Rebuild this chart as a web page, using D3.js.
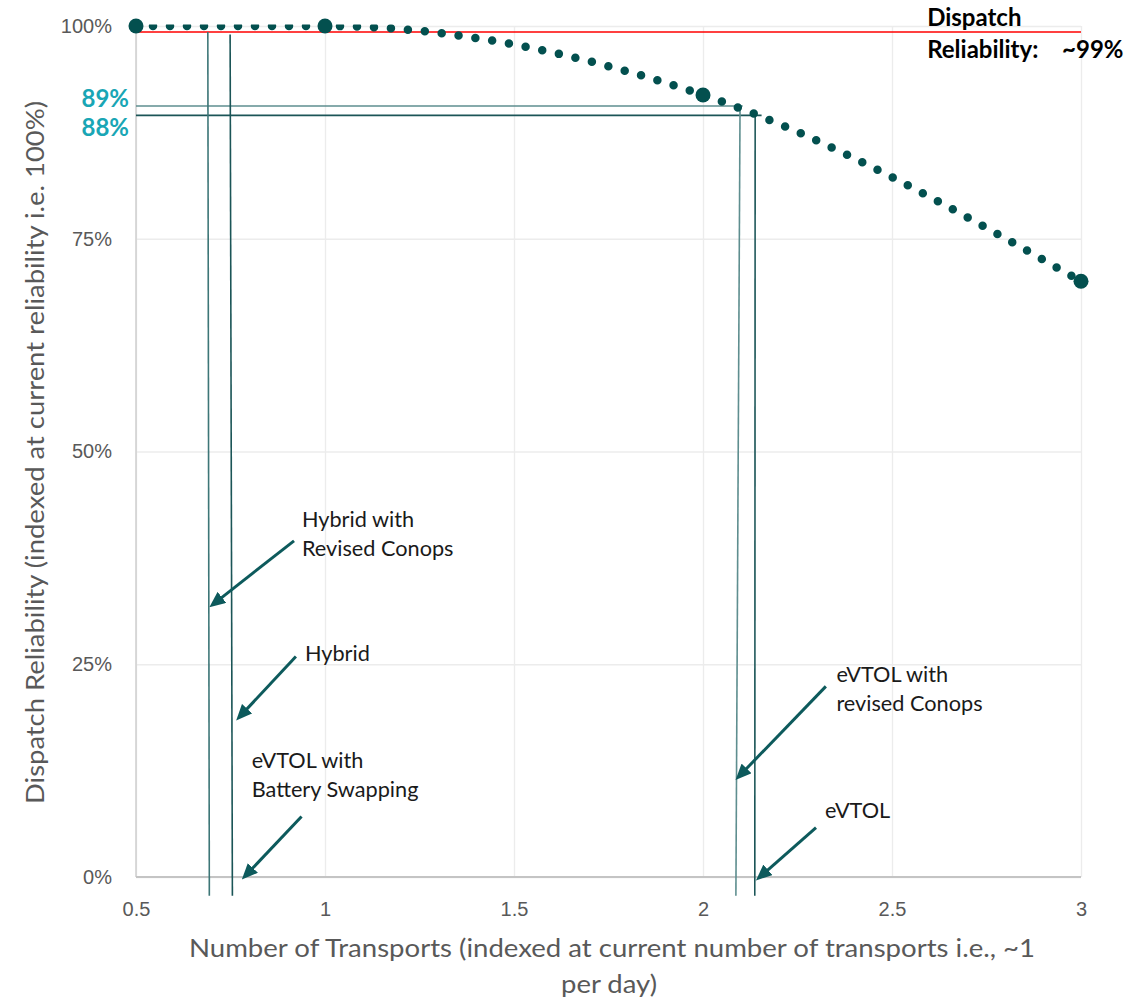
<!DOCTYPE html>
<html>
<head>
<meta charset="utf-8">
<script src="https://cdn.jsdelivr.net/npm/d3@7"></script>
<style>
  body { margin: 0; background: #fff; }
  svg { font-family: Lato, "Open Sans", sans-serif; }
  .grid line { stroke: #ececec; stroke-width: 1.3; }
  .grid .domain { display: none; }
  .tick text { fill: #595959; font-size: 20px; }
  .note { font-size: 21.7px; fill: #1a1a1a; }
  .axis-title { font-size: 25px; fill: #595959; }
</style>
</head>
<body>
<div id="chart"></div>
<script>
(function () {

  // data
  var transports = [0.5, 1, 2, 3]
  var reliability = [1.0, 1.0, 0.919, 0.70]
  var xTicks = [0.5, 1, 1.5, 2, 2.5, 3]
  var yTicks = [0, 0.25, 0.5, 0.75, 1]
  var targetReliability = 0.993

  // horizontal markers (label, level, where the line stops)
  var levelLabels = ["89%", "88%"]
  var levelValues = [0.906, 0.895]
  var levelEnds = [2.105, 2.155]

  // vertical drop lines: x at top, x at bottom, top level
  var dropTopX = [0.690, 0.749, 2.098, 2.138]
  var dropBottomX = [0.694, 0.755, 2.087, 2.137]
  var dropTopY = [0.993, 0.990, 0.906, 0.895]
  var dropBottomY = -0.022

  // callouts
  var noteLines = [["Hybrid with", "Revised Conops"], ["Hybrid"], ["eVTOL with", "Battery Swapping"], ["eVTOL with", "revised Conops"], ["eVTOL"]]
  var noteX = [0.939, 0.947, 0.806, 2.353, 2.323]
  var noteY = [0.411, 0.254, 0.1276, 0.229, 0.069]
  var arrowFrom = [[0.918, 0.395], [0.923, 0.259], [0.938, 0.071], [2.325, 0.224], [2.299, 0.058]]
  var arrowTo = [[0.694, 0.317], [0.765, 0.184], [0.780, -0.003], [2.086, 0.114], [2.140, -0.004]]

  var margin = { top: 26, right: 67, bottom: 123, left: 136 }
  var width = 1148 - margin.left - margin.right,
    height = 1000 - margin.top - margin.bottom

  var svg = d3.select("#chart").append("svg")
    .attr("width", 1148)
    .attr("height", 1000)
    .append("g")
    .attr("transform", "translate(" + margin.left + "," + margin.top + ")")

  var x = d3.scaleLinear().domain([0.5, 3]).range([0, width])
  var y = d3.scaleLinear().domain([0, 1]).range([height, 0])

  var teal = "#03504f"

  var defs = svg.append("defs")
  defs.append("clipPath").attr("id", "plot-clip")
    .append("rect")
    .attr("x", -10).attr("y", -1.5)
    .attr("width", width + 20).attr("height", height + 2)

  defs.append("marker")
    .attr("id", "arrow")
    .attr("markerUnits", "userSpaceOnUse")
    .attr("viewBox", "0 0 16 14")
    .attr("refX", 16).attr("refY", 7)
    .attr("markerWidth", 16).attr("markerHeight", 14)
    .attr("orient", "auto")
    .append("path")
    .attr("d", "M0,0 L16,7 L0,14 Z")
    .attr("fill", "#0d5a5c")

  // grid + axes
  svg.append("g")
    .attr("class", "grid y-grid")
    .call(d3.axisLeft(y).tickValues(yTicks).tickFormat(d3.format(".0%")).tickSize(-width).tickPadding(24))

  svg.append("g")
    .attr("class", "grid x-grid")
    .attr("transform", "translate(0," + height + ")")
    .call(d3.axisBottom(x).tickValues(xTicks).tickFormat(d3.format("")).tickSize(-height).tickPadding(25))

  svg.append("line")
    .attr("x1", 0).attr("x2", 0).attr("y1", 0).attr("y2", height)
    .attr("stroke", "#cfcfcf").attr("stroke-width", 1.5)
  svg.append("line")
    .attr("x1", 0).attr("x2", width).attr("y1", y(0)).attr("y2", y(0))
    .attr("stroke", "#c4c4c4").attr("stroke-width", 1.8)

  // target line
  svg.append("line")
    .attr("x1", x(0.5)).attr("x2", x(3))
    .attr("y1", y(targetReliability)).attr("y2", y(targetReliability))
    .attr("stroke", "#ff0000").attr("stroke-width", 1.6)

  // level lines
  var levelColors = ["#5e8e8f", "#1b5557"]
  levelValues.forEach(function (v, i) {
    svg.append("line")
      .attr("x1", x(0.5)).attr("x2", x(levelEnds[i]))
      .attr("y1", y(v)).attr("y2", y(v))
      .attr("stroke", levelColors[i]).attr("stroke-width", 1.6)
  })

  var labelShift = [1, 21]
  levelLabels.forEach(function (d, i) {
    svg.append("text")
      .attr("x", x(0.5) - 7)
      .attr("y", y(levelValues[i]) + labelShift[i])
      .attr("text-anchor", "end")
      .attr("font-weight", "bold")
      .attr("font-size", "24px")
      .attr("fill", "#19a6b5")
      .text(d)
  })

  // drop lines
  var dropColors = ["#3d7677", "#1b5557", "#5e8e8f", "#1b5557"]
  dropTopX.forEach(function (d, i) {
    svg.append("line")
      .attr("x1", x(d)).attr("y1", y(dropTopY[i]))
      .attr("x2", x(dropBottomX[i])).attr("y2", y(dropBottomY))
      .attr("stroke", dropColors[i]).attr("stroke-width", 1.6)
  })

  // dotted smooth curve
  var points = transports.map(function (t, i) { return [t, reliability[i]] })
  var line = d3.line()
    .x(function (d) { return x(d[0]) })
    .y(function (d) { return y(d[1]) })
    .curve(d3.curveMonotoneX)

  svg.append("path")
    .datum(points)
    .attr("d", line)
    .attr("clip-path", "url(#plot-clip)")
    .attr("fill", "none")
    .attr("stroke", teal)
    .attr("stroke-width", 8.5)
    .attr("stroke-linecap", "round")
    .attr("stroke-dasharray", "0 17")

  svg.selectAll(".big-dot")
    .data(points)
    .enter()
    .append("circle")
    .attr("class", "big-dot")
    .attr("cx", function (d) { return x(d[0]) })
    .attr("cy", function (d) { return y(d[1]) })
    .attr("r", 7.5)
    .attr("fill", teal)

  // arrows
  arrowFrom.forEach(function (f, i) {
    var x1 = x(f[0]), y1 = y(f[1]), x2 = x(arrowTo[i][0]), y2 = y(arrowTo[i][1])
    var len = Math.sqrt((x2 - x1) * (x2 - x1) + (y2 - y1) * (y2 - y1))
    var k = (len - 10) / len
    svg.append("line")
      .attr("x1", x1).attr("y1", y1)
      .attr("x2", x1 + (x2 - x1) * k).attr("y2", y1 + (y2 - y1) * k)
      .attr("stroke", "#0d5a5c").attr("stroke-width", 3)
    svg.append("line")
      .attr("x1", x1 + (x2 - x1) * k).attr("y1", y1 + (y2 - y1) * k)
      .attr("x2", x2).attr("y2", y2)
      .attr("stroke", "none")
      .attr("marker-end", "url(#arrow)")
  })

  // callout text
  noteLines.forEach(function (lines, i) {
    var t = svg.append("text")
      .attr("class", "note")
      .attr("x", x(noteX[i]))
      .attr("y", y(noteY[i]))
    lines.forEach(function (s, j) {
      t.append("tspan")
        .attr("x", x(noteX[i]))
        .attr("dy", j === 0 ? 0 : 29)
        .text(s)
    })
  })

  // dispatch reliability label
  var disp = svg.append("text")
    .attr("font-weight", "bold")
    .attr("font-size", "24px")
    .attr("fill", "#000")
  disp.append("tspan").attr("x", x(2.593)).attr("y", y(1.0)).text("Dispatch")
  disp.append("tspan").attr("x", x(2.593)).attr("y", y(1.0) + 31.5).text("Reliability:")
  disp.append("tspan").attr("x", x(2.95)).attr("y", y(1.0) + 31.5).text("~99%")

  // axis titles
  svg.append("text")
    .attr("class", "axis-title")
    .attr("text-anchor", "middle")
    .attr("x", 476)
    .attr("y", height + 80)
    .attr("textLength", 846)
    .attr("lengthAdjust", "spacingAndGlyphs")
    .text("Number of Transports (indexed at current number of transports i.e., ~1")
  svg.append("text")
    .attr("class", "axis-title")
    .attr("text-anchor", "middle")
    .attr("x", 473)
    .attr("y", height + 116)
    .attr("textLength", 96)
    .attr("lengthAdjust", "spacingAndGlyphs")
    .text("per day)")

  svg.append("text")
    .attr("class", "axis-title")
    .attr("text-anchor", "middle")
    .attr("transform", "translate(-92," + (height / 2 + 1) + ") rotate(-90)")
    .attr("textLength", 703)
    .attr("lengthAdjust", "spacingAndGlyphs")
    .text("Dispatch Reliability (indexed at current reliability i.e. 100%)")

})()
</script>
</body>
</html>
